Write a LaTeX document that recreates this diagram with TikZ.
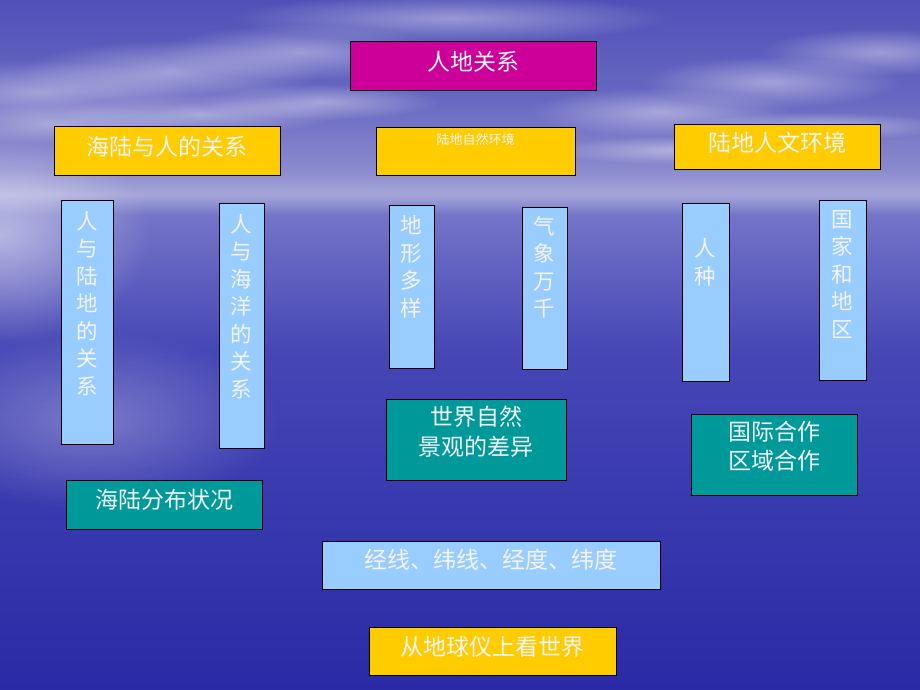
\documentclass[tikz,border=0pt]{standalone}
\usepackage{fontspec}
\newfontfamily\cjkfont{Noto Sans CJK SC}
\usetikzlibrary{fadings}
\definecolor{slidemagenta}{HTML}{CC0099}
\definecolor{slideyellow}{HTML}{FFCC00}
\definecolor{slidesky}{HTML}{99CCFF}
\definecolor{slideteal}{HTML}{009999}
\definecolor{slidetext}{HTML}{F4F4F8}
\definecolor{skytop}{HTML}{5050B8}
\definecolor{skymid}{HTML}{6868C2}
\definecolor{skylow}{HTML}{8A8ACE}
\definecolor{horizon}{HTML}{A6A6DA}
\definecolor{seahigh}{HTML}{7474C8}
\definecolor{seamid}{HTML}{4646B6}
\definecolor{seadeep}{HTML}{2A2AA6}
\pgfdeclareverticalshading{skysea}{100bp}{color(0bp)=(seadeep); color(25bp)=(seadeep);
  color(49.6bp)=(seamid); color(59.4bp)=(seahigh); color(60.9bp)=(horizon);
  color(62.7bp)=(skylow); color(67.8bp)=(skymid); color(75bp)=(skytop); color(100bp)=(skytop)}
\tikzfading[name=soft blob, inner color=transparent!0, outer color=transparent!100]
\begin{document}
\begin{tikzpicture}[x=1pt,y=-1pt,
  box/.style={draw=black, line width=0.8pt, minimum width=#1, inner sep=0pt},
  label22/.style={text=slidetext, inner sep=0pt, font=\cjkfont\fontsize{23}{30}\selectfont, align=center},
  vlabel/.style={text=slidetext, inner sep=0pt, font=\cjkfont\fontsize{21.5}{27.5}\selectfont, align=center},
  cloud/.style={fill=white, path fading=soft blob, fill opacity=#1}]
\useasboundingbox (0,0) rectangle (920,690);
% background: sky, horizon and sea
\shade[shading=skysea] (0,0) rectangle (920,690);
\foreach \cx/\cy/\rx/\ry in {40/92/150/32, 170/72/150/32, 300/52/140/28,
    60/124/140/20, 200/114/140/20, 320/102/120/18,
    660/112/130/24, 770/82/130/26, 880/52/120/24,
    680/150/130/14, 820/126/130/14, 450/18/220/24}
  \fill[cloud=0.4] (\cx,\cy) ellipse [x radius=\rx, y radius=\ry];
\fill[cloud=0.5] (0,235) ellipse [x radius=150, y radius=110];
\fill[cloud=0.3] (90,420) ellipse [x radius=190, y radius=90];
% top
\node[box=246pt, minimum height=49pt, fill=slidemagenta] (rendi) at (473,65.5) {};
\node[label22] (rendi text) at (473,62) {人地关系};
% second row
\node[box=226pt, minimum height=49pt, fill=slideyellow] (hailu) at (167,150.5) {};
\node[label22] (hailu text) at (167,147) {海陆与人的关系};
\node[box=199pt, minimum height=48pt, fill=slideyellow] (ziran) at (475.5,151) {};
\node[text=slidetext, inner sep=0pt, font=\cjkfont\fontsize{13}{15}\selectfont] (ziran text) at (475.5,140) {陆地自然环境};
\node[box=206pt, minimum height=45pt, fill=slideyellow] (renwen) at (777,146.5) {};
\node[label22] (renwen text) at (777,143) {陆地人文环境};
% vertical boxes
\node[box=52pt, minimum height=244pt, fill=slidesky] (ludi) at (87,322) {};
\node[vlabel] (ludi text) at (87,303.5) {人\\与\\陆\\地\\的\\关\\系};
\node[box=45pt, minimum height=245pt, fill=slidesky] (haiyang) at (241.5,325.5) {};
\node[vlabel] (haiyang text) at (241.5,306.5) {人\\与\\海\\洋\\的\\关\\系};
\node[box=45pt, minimum height=163pt, fill=slidesky] (dixing) at (411.5,286.5) {};
\node[vlabel] (dixing text) at (411.5,267) {地\\形\\多\\样};
\node[box=45pt, minimum height=162pt, fill=slidesky] (qixiang) at (544.5,288) {};
\node[vlabel] (qixiang text) at (544.5,267.5) {气\\象\\万\\千};
\node[box=47pt, minimum height=178pt, fill=slidesky] (renzhong) at (705.5,292) {};
\node[vlabel] (renzhong text) at (705.5,262.5) {人\\种};
\node[box=47pt, minimum height=180pt, fill=slidesky] (guojia) at (842.5,290) {};
\node[vlabel] (guojia text) at (842.5,274) {国\\家\\和\\地\\区};
% teal boxes
\node[box=180pt, minimum height=81pt, fill=slideteal] (jingguan) at (476,439.5) {};
\node[label22] (jingguan text) at (476,432) {世界自然\\景观的差异};
\node[box=166pt, minimum height=81pt, fill=slideteal] (hezuo) at (774,454.5) {};
\node[label22, font=\cjkfont\fontsize{23}{28.5}\selectfont] (hezuo text) at (774,446) {国际合作\\区域合作};
\node[box=196pt, minimum height=49pt, fill=slideteal] (fenbu) at (164,504.5) {};
\node[label22] (fenbu text) at (164,500) {海陆分布状况};
% bottom
\node[box=338pt, minimum height=48pt, fill=slidesky] (jingwei) at (491,565) {};
\node[label22] (jingwei text) at (491,560) {经线、纬线、经度、纬度};
\node[box=247pt, minimum height=48pt, fill=slideyellow] (diqiuyi) at (492.5,651) {};
\node[label22] (diqiuyi text) at (492.5,647) {从地球仪上看世界};
\end{tikzpicture}
\end{document}
